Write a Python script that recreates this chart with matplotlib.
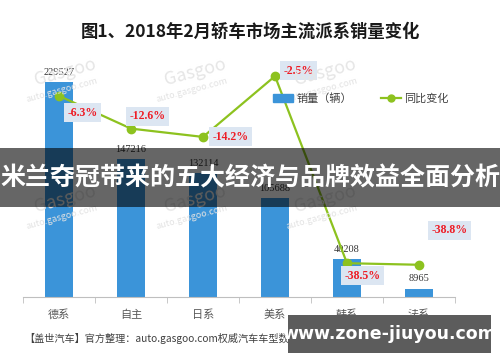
import matplotlib
matplotlib.use("Agg")
import matplotlib.pyplot as plt
from matplotlib.patches import Rectangle, Patch
from matplotlib.lines import Line2D

plt.rcParams['font.family'] = ['Noto Sans CJK SC', 'DejaVu Sans']

categories = ['德系', '自主', '日系', '美系', '韩系', '法系']
sales = [229527, 147216, 132114, 105688, 40208, 8965]
change = [-6.3, -12.6, -14.2, -2.5, -38.5, -38.8]
change_labels = ['-6.3%', '-12.6%', '-14.2%', '-2.5%', '-38.5%', '-38.8%']
# label offsets in points (dx, dy) relative to line markers
label_off = [(17, -12), (12, 9), (20, 0), (17, 4), (11, -9), (22, 25)]

title = '图1、2018年2月轿车市场主流派系销量变化'
banner = '米兰夺冠带来的五大经济与品牌效益全面分析'
source = '【盖世汽车】官方整理：auto.gasgoo.com权威汽车车型数据库'

bar_color = '#3b94d9'
line_color = '#8dc21f'

fig = plt.figure(figsize=(5, 3.62), dpi=100)
ax = fig.add_axes([0.046, 0.1796, 0.864, 0.646])
x = range(len(categories))

# faint gasgoo watermarks
for wx, wy in [(0.13, 0.80), (0.39, 0.80), (0.65, 0.80), (0.13, 0.45), (0.39, 0.45), (0.65, 0.45)]:
    fig.text(wx, wy, 'Gasgoo', fontsize=13, color='#e6e6e6', rotation=15,
             ha='center', va='center', zorder=0)
    fig.text(wx - 0.005, wy - 0.05, 'auto.gasgoo.com', fontsize=6.5, color='#e3e3e3',
             rotation=15, ha='center', va='center', zorder=0)

ax.bar(x, sales, width=0.39, color=bar_color, zorder=2)
ax.set_xlim(-0.5, len(categories) - 0.5)
ax.set_ylim(0, 250000)
for i, v in enumerate(sales):
    ax.text(i, v + 6000, str(v), ha='center', va='bottom', fontsize=7.5,
            family='Liberation Serif', color='#333333', zorder=3)

ax.set_xticks(list(x))
ax.set_xticklabels(categories, fontsize=8, color='#595959')
ax.set_xticks([i - 0.5 for i in range(len(categories) + 1)], minor=True)
ax.tick_params(axis='x', which='major', length=0, pad=9)
ax.tick_params(axis='x', which='minor', length=4, color='#bfbfbf', direction='out')
ax.set_yticks([])
for s in ['top', 'left', 'right']:
    ax.spines[s].set_visible(False)
ax.spines['bottom'].set_color('#bfbfbf')
ax.patch.set_alpha(0)

ax2 = ax.twinx()
ax2.set_ylim(-45, 0)
ax2.plot(list(x), change, color=line_color, lw=1.6, marker='o', ms=6, zorder=4)
ax2.set_yticks([])
for s in ['top', 'left', 'right', 'bottom']:
    ax2.spines[s].set_visible(False)
for i, (v, lab) in enumerate(zip(change, change_labels)):
    ax2.annotate(lab, (i, v), xytext=label_off[i], textcoords='offset points',
                 ha='center', va='center', fontsize=8.5, fontweight='bold',
                 family='Liberation Serif', color='#ee1c25', zorder=5,
                 bbox=dict(boxstyle='square,pad=0.3', fc='#dce6f2', ec='none'))

handles = [Patch(color=bar_color), Line2D([], [], color=line_color, lw=1.6, marker='o', ms=5)]
fig.legend(handles, ['销量（辆）', '同比变化'], loc='center', ncol=2,
           bbox_to_anchor=(0.722, 0.727), bbox_transform=fig.transFigure,
           frameon=False, fontsize=8, handlelength=1.8, handletextpad=0.3,
           columnspacing=2.6, labelcolor='#404040')

fig.text(0.5, 0.912, title, ha='center', va='center', fontsize=12.5,
         fontweight='bold', color='#1a1a1a')
fig.text(0.048, 0.066, source, ha='left', va='center', fontsize=7.3,
         style='italic', color='#404040')

# dark banner overlay
fig.patches.append(Rectangle((0, 1 - 207 / 362), 1, 59 / 362, transform=fig.transFigure,
                             facecolor='black', alpha=0.6, edgecolor='none', zorder=10))
fig.text(0.5, 1 - 178 / 362, banner, ha='center', va='center', fontsize=18,
         fontweight='bold', color='white', zorder=11)

# site watermark box
fig.patches.append(Rectangle((288 / 500, 1 - 353 / 362), 203 / 500, 38 / 362,
                             transform=fig.transFigure, facecolor='#5c5c5c',
                             edgecolor='none', zorder=10))
fig.text(389 / 500, 1 - 334 / 362, 'www.zone-jiuyou.com', ha='center', va='center',
         fontsize=12.5, fontweight='bold', color='white', family='DejaVu Sans', zorder=11)

fig.savefig('out.png', dpi=100)
